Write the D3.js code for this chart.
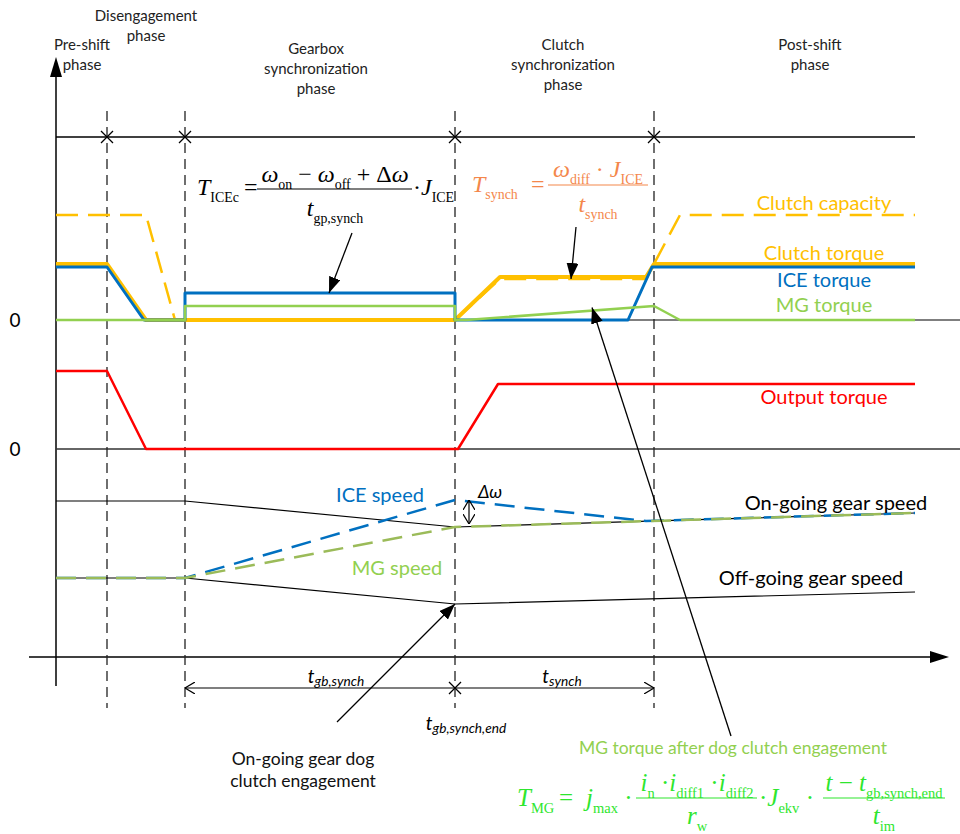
<!DOCTYPE html>
<html>
<head>
<meta charset="utf-8">
<script src="https://cdn.jsdelivr.net/npm/d3@7"></script>
<style>
body{margin:0;background:#fff;}
svg text{font-family:Lato,"Open Sans",sans-serif;}
.m{font-family:"Liberation Serif","DejaVu Serif",serif;}
</style>
</head>
<body>
<script>
// time in arbitrary units (0 = start of pre-shift)
var phaseEnds = [51, 129, 399, 598];
var tEnd = 859;
var phaseNames = [["Pre-shift","phase"],["Disengagement","phase"],["Gearbox","synchronization","phase"],["Clutch","synchronization","phase"],["Post-shift","phase"]];
// torque panel
var clutchCapacity = [[0,105],[90,105],[119,0],[399,0],[444,41],[590,41],[624,105],[859,105]];
var clutchTorque = [[0,56],[51,56],[90,0],[399,0],[444,43],[590,43],[598,56],[859,56]];
var iceTorque = [[0,53],[51,53],[88,0],[129,0],[129,27],[399,27],[399,0],[572,0],[596,53],[859,53]];
var mgTorque = [[0,0],[129,0],[129,14],[399,14],[399,0],[410,0],[598,14],[624,0],[859,0]];
// output torque panel
var outputTorque = [[0,78],[51,78],[90,0],[402,0],[442,65],[859,65]];
// speed panel
var onGoing = [[0,156],[129,156],[399,130],[859,144]];
var offGoing = [[0,79],[129,79],[399,53],[859,65]];
var iceSpeed = [[0,79],[129,79],[399,157],[590,136],[859,144]];
var mgSpeed = [[0,79],[129,79],[399,130],[859,144]];

var W = 960, H = 834;
var svg = d3.select("body").append("svg").attr("width",W).attr("height",H);
var x = d3.scaleLinear().domain([0,900]).range([56,956]);
var yT = d3.scaleLinear().domain([0,110]).range([320,210]);
var yO = d3.scaleLinear().domain([0,100]).range([449,349]);
var yS = d3.scaleLinear().domain([0,200]).range([657,457]);

var defs = svg.append("defs");
defs.append("marker").attr("id","fill").attr("viewBox","0 0 16 12").attr("refX",16).attr("refY",6)
	.attr("markerWidth",16).attr("markerHeight",12).attr("markerUnits","userSpaceOnUse").attr("orient","auto")
	.append("path").attr("d","M0,0 L16,6 L0,12 Z").attr("fill","#000");
defs.append("marker").attr("id","open").attr("viewBox","0 0 10 12").attr("refX",10).attr("refY",6)
	.attr("markerWidth",10).attr("markerHeight",12).attr("markerUnits","userSpaceOnUse").attr("orient","auto-start-reverse")
	.append("path").attr("d","M0,0 L10,6 L0,12").attr("fill","none").attr("stroke","#000").attr("stroke-width",1.2);

//axes
svg.append("line").attr("x1",56).attr("y1",72).attr("x2",56).attr("y2",686).attr("stroke","#000").attr("stroke-width",1.5);
svg.append("path").attr("d","M56,57 L62,77 L50,77 Z").attr("fill","#000");
svg.append("line").attr("x1",29).attr("y1",657).attr("x2",935).attr("y2",657).attr("stroke","#000").attr("stroke-width",1.5);
svg.append("path").attr("d","M949,657 L930,651 L930,663 Z").attr("fill","#000");
svg.append("line").attr("x1",56).attr("y1",137).attr("x2",x(tEnd)).attr("y2",137).attr("stroke","#000").attr("stroke-width",1.3);
svg.append("line").attr("x1",56).attr("y1",yT(0)).attr("x2",960).attr("y2",yT(0)).attr("stroke","#000").attr("stroke-width",1.2);
svg.append("line").attr("x1",56).attr("y1",yO(0)).attr("x2",960).attr("y2",yO(0)).attr("stroke","#333").attr("stroke-width",1.5);
[yT(0),yO(0)].forEach(function(v){
	svg.append("text").text("0").attr("x",15).attr("y",v+7).attr("text-anchor","middle").attr("font-size",19);
});

//phase boundaries
phaseEnds.forEach(function(t){
	svg.append("line").attr("x1",x(t)).attr("y1",111).attr("x2",x(t)).attr("y2",708)
		.attr("stroke","#222").attr("stroke-width",1.3).attr("stroke-dasharray","10,6");
	svg.append("path").attr("d","M"+(x(t)-6)+",131 L"+(x(t)+6)+",143 M"+(x(t)-6)+",143 L"+(x(t)+6)+",131")
		.attr("stroke","#000").attr("stroke-width",1.3);
});
var phaseCx = [82,146,316,563,810];
var phaseTop = [50,21,54,50,50];
phaseNames.forEach(function(p,i){
	var t = svg.append("text").attr("text-anchor","middle").attr("font-size",15).attr("fill","#222");
	p.forEach(function(s,k){
		t.append("tspan").attr("x",phaseCx[i]).attr("y",phaseTop[i]+k*20).text(s);
	});
});

//lines
var line = d3.line().x(function(d){return x(d[0]);});
function draw(data,yscale,color,width,dash){
	var p = svg.append("path").datum(data).attr("d",line.y(function(d){return yscale(d[1]);}))
		.attr("fill","none").attr("stroke",color).attr("stroke-width",width).attr("stroke-linejoin","round");
	if(dash){ p.attr("stroke-dasharray",dash); }
}
draw(clutchCapacity,yT,"#FFC000",2.5,"22,10");
draw(clutchTorque,yT,"#FFC000",4);
draw(iceTorque,yT,"#0070C0",3);
draw(mgTorque,yT,"#92D050",2.5);
draw(outputTorque,yO,"#FF0000",2.5);
draw(onGoing,yS,"#000",1.2);
draw(offGoing,yS,"#000",1.2);
draw(iceSpeed,yS,"#0070C0",2.5,"20,10");
draw(mgSpeed,yS,"#9BBB59",2.5,"20,10");

//labels
function label(s,cx,cy,color,size,italic){
	var t = svg.append("text").text(s).attr("x",cx).attr("y",cy).attr("text-anchor","middle")
		.attr("font-size",size).attr("fill",color);
	if(italic){ t.attr("font-style","italic"); }
	return t;
}
label("Clutch capacity",824,210,"#FFC000",20);
label("Clutch torque",824,260,"#FFC000",20);
label("ICE torque",824,287,"#0070C0",20);
label("MG torque",824,312,"#92D050",20);
label("Output torque",824,404,"#FF0000",20);
label("ICE speed",380,502,"#0070C0",20);
label("MG speed",397,575,"#92D050",20);
label("On-going gear speed",836,510,"#000",20);
label("Off-going gear speed",811,585,"#000",20);
label("On-going gear dog",303,765,"#111",17.5);
label("clutch engagement",303,787,"#111",17.5);
label("MG torque after dog clutch engagement",733,754,"#92D050",17.5);

function subLabel(main,sub,cx,cy,size){
	var t = svg.append("text").attr("x",cx).attr("y",cy).attr("text-anchor","middle")
		.attr("font-size",size).attr("font-style","italic");
	t.append("tspan").text(main);
	t.append("tspan").text(sub).attr("font-size",size*0.72).attr("dy",3);
}
subLabel("t","gb,synch",336,683,19);
subLabel("t","synch",562,683,19);
subLabel("t","gb,synch,end",466,730,19);
label("\u0394\u03c9",490,498,"#000",18,true);

//dimension arrows
var dimY = 688;
svg.append("line").attr("x1",x(phaseEnds[1])).attr("y1",dimY).attr("x2",x(phaseEnds[3])).attr("y2",dimY)
	.attr("stroke","#000").attr("stroke-width",1.2).attr("marker-start","url(#open)").attr("marker-end","url(#open)");
svg.append("path").attr("d","M"+(x(phaseEnds[2])-6)+","+(dimY-6)+" L"+(x(phaseEnds[2])+6)+","+(dimY+6)+" M"+(x(phaseEnds[2])-6)+","+(dimY+6)+" L"+(x(phaseEnds[2])+6)+","+(dimY-6))
	.attr("stroke","#000").attr("stroke-width",1.3);
svg.append("line").attr("x1",469).attr("y1",yS(iceSpeed[2][1])).attr("x2",469).attr("y2",yS(133))
	.attr("stroke","#000").attr("stroke-width",1.2).attr("marker-start","url(#open)").attr("marker-end","url(#open)");

//pointer arrows
function arrow(x1,y1,x2,y2){
	svg.append("line").attr("x1",x1).attr("y1",y1).attr("x2",x2).attr("y2",y2)
		.attr("stroke","#000").attr("stroke-width",1.3).attr("marker-end","url(#fill)");
}
arrow(352,233,x(273),yT(iceTorque[4][1]));
arrow(576,227,571,yT(41));
arrow(731,736,592,yT(12.5));
arrow(337,722,x(phaseEnds[2]),yS(offGoing[2][1]));

//formulas
function mrun(x0,y0,parts,size,color,anchor){
	var t = svg.append("text").attr("class","m").attr("x",x0).attr("y",y0).attr("font-size",size)
		.attr("fill",color).attr("text-anchor",anchor||"start");
	var shift = 0;
	parts.forEach(function(p){
		var s = t.append("tspan").text(p[0]);
		if(p[1]=="s"){
			s.attr("font-size",size*0.58).attr("dy",size*0.28-shift);
			shift = size*0.28;
		}else{
			s.attr("dy",-shift);
			shift = 0;
			if(p[1]=="i"){ s.attr("font-style","italic"); }
		}
	});
	return t;
}
function bar(x1,x2,y,color){
	svg.append("line").attr("x1",x1).attr("x2",x2).attr("y1",y).attr("y2",y).attr("stroke",color).attr("stroke-width",1.2);
}
//formula 1
var c1 = "#000";
mrun(197,195,[["T","i"],["ICEc","s"]],24,c1);
mrun(244,195,[["=","r"]],24,c1);
mrun(335,182,[["\u03c9","i"],["on","s"],[" \u2212 ","r"],["\u03c9","i"],["off","s"],[" + \u0394","r"],["\u03c9","i"]],24,c1,"middle");
bar(257,412,189,c1);
mrun(335,216,[["t","i"],["gp,synch","s"]],24,c1,"middle");
mrun(413,195,[["\u00b7","r"],["J","i"],["ICE","s"]],24,c1);
//formula 2
var c2 = "#F4874B";
mrun(472,192,[["T","i"],["synch","s"]],24,c2);
mrun(531,192,[["=","r"]],24,c2);
mrun(598,177,[["\u03c9","i"],["diff","s"],[" \u00b7 ","r"],["J","i"],["ICE","s"]],24,c2,"middle");
bar(548,648,185,c2);
mrun(598,212,[["t","i"],["synch","s"]],24,c2,"middle");
//formula 3
var c3 = "#2EE62E";
mrun(517,806,[["T","i"],["MG","s"]],25,c3);
mrun(559,806,[["=","r"]],25,c3);
mrun(586,806,[["j","i"],["max","s"],[" \u00b7","r"]],25,c3);
mrun(697,791,[["i","i"],["n","s"],[" \u00b7","r"],["i","i"],["diff1","s"],[" \u00b7","r"],["i","i"],["diff2","s"]],25,c3,"middle");
bar(636,757,798,c3);
mrun(697,824,[["r","i"],["w","s"]],25,c3,"middle");
mrun(759,806,[["\u00b7","r"],["J","i"],["ekv","s"],[" \u00b7","r"]],25,c3);
mrun(884,791,[["t","i"],[" \u2212 ","r"],["t","i"],["gb,synch,end","s"]],25,c3,"middle");
bar(823,945,798,c3);
mrun(884,824,[["t","i"],["im","s"]],25,c3,"middle");
</script>
</body>
</html>
